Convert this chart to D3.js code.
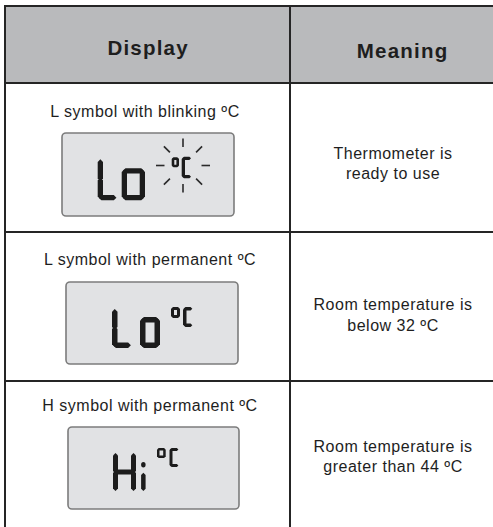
<!DOCTYPE html>
<html>
<head>
<meta charset="utf-8">
<script src="https://cdn.jsdelivr.net/npm/d3@7"></script>
<style>
	body { margin:0; background:#fff; }
	svg { display:block; }
	text { font-family:"Liberation Sans", Arial, Helvetica, sans-serif; fill:#1e1e1e; }
</style>
</head>
<body>
<div id="chart-area"></div>
<script>
/*
*    thermometer display table
*/

var columnTitles = ["Display", "Meaning"];
var displayLabels = ["L symbol with blinking ºC", "L symbol with permanent ºC", "H symbol with permanent ºC"];
var lcdReadings = ["Lo", "Lo", "Hi"];
var lcdUnit = ["º", "C"];
var unitBlinks = [true, false, false];
var meaningLines = [
	["Thermometer is", "ready to use"],
	["Room temperature is", "below 32 ºC"],
	["Room temperature is", "greater than 44 ºC"]
];

// segment shapes of the lcd glyphs, in a unit box
var glyphSegments = {
	"L": [[0,0,0,0.5],[0,0.5,0,1],[0,1,1,1]],
	"o": [[0,0,1,0],[0,0,0,1],[1,0,1,1],[0,1,1,1]],
	"H": [[0,0,0,0.5],[0,0.5,0,1],[1,0,1,0.5],[1,0.5,1,1],[0,0.5,1,0.5]],
	"i": [[0.5,0.43,0.5,1]],
	"º": [[0,0,1,0],[0,0,0,1],[1,0,1,1],[0,1,1,1]],
	"C": [[0,0,1,0],[0,0,0,1],[0,1,1,1]]
};
var glyphDots = { "i": [[0.5, 0.09]] };

// measured layout
var layout = {
	colX: [5, 290, 493],
	headerTop: 6,
	headerBottom: 83,
	tableBottom: 530,
	titleX: [147.5, 402],
	titleY: [55, 58],
	labelX: [145, 150, 150],
	labelY: [117, 265, 411],
	meaningX: 393,
	meaningY: [[159, 179], [310, 331], [452, 472]],
	lcdBoxes: [[62,133,234,216], [66,282,238,364], [68,427,239,509]],
	glyphBoxes: [
		[[97.7,158.3,117.5,200.3,5.3], [121.7,168.3,145,200.3,5.3], [171.7,157.3,179,167.3,2.6], [181.7,156.7,191.7,178.3,3.3]],
		[[112,308,132,348,5.5], [140,317,160,348,5.5], [171,307,180,318,3], [183,307,193,327,3.5]],
		[[113,452,136,492,5], [141,460,145.7,492,4.5], [157,448,165.7,458,2.5], [169.5,448,179,467,3]]
	],
	rayCenter: [183, 165.5],
	rayRadius: [18.5, 27]
};

var width = 493;
var height = 527;

var svg = d3.select("#chart-area")
	.append("svg")
		.attr("width", width)
		.attr("height", height);

var y = d3.scaleBand()
	.domain(d3.range(displayLabels.length))
	.range([layout.headerBottom, layout.tableBottom]);

// header background
svg.append("rect")
	.attr("x", layout.colX[0])
	.attr("y", layout.headerTop)
	.attr("width", width - layout.colX[0])
	.attr("height", layout.headerBottom - layout.headerTop)
	.attr("fill", "#b9babc");

// grid lines
var lineColor = "#252525";
var lines = [
	[layout.colX[0] - 1, layout.headerTop, width, layout.headerTop],
	[layout.colX[0], layout.headerTop, layout.colX[0], height],
	[layout.colX[1], layout.headerTop, layout.colX[1], height],
	[layout.colX[0], layout.headerBottom, width, layout.headerBottom]
];
d3.range(1, displayLabels.length).forEach(function(i){
	lines.push([layout.colX[0], y(i), width, y(i)]);
});

svg.selectAll("line.grid")
	.data(lines)
	.enter()
	.append("line")
		.attr("class", "grid")
		.attr("x1", function(d){ return d[0]; })
		.attr("y1", function(d){ return d[1]; })
		.attr("x2", function(d){ return d[2]; })
		.attr("y2", function(d){ return d[3]; })
		.attr("stroke", lineColor)
		.attr("stroke-width", 2);

// header titles
svg.selectAll("text.title")
	.data(columnTitles)
	.enter()
	.append("text")
		.attr("class", "title")
		.attr("x", function(d, i){ return layout.titleX[i] + 0.6; })
		.attr("y", function(d, i){ return layout.titleY[i]; })
		.attr("text-anchor", "middle")
		.attr("font-size", "20.5px")
		.attr("font-weight", "bold")
		.attr("letter-spacing", "1.2px")
		.text(function(d){ return d; });

// display labels
svg.selectAll("text.label")
	.data(displayLabels)
	.enter()
	.append("text")
		.attr("class", "label")
		.attr("x", function(d, i){ return layout.labelX[i]; })
		.attr("y", function(d, i){ return layout.labelY[i]; })
		.attr("text-anchor", "middle")
		.attr("font-size", "16px")
		.attr("letter-spacing", "0.5px")
		.text(function(d){ return d; });

// meanings
meaningLines.forEach(function(rowLines, r){
	svg.selectAll("text.meaning" + r)
		.data(rowLines)
		.enter()
		.append("text")
			.attr("class", "meaning" + r)
			.attr("x", layout.meaningX)
			.attr("y", function(d, i){ return layout.meaningY[r][i]; })
			.attr("text-anchor", "middle")
			.attr("font-size", "16px")
			.attr("letter-spacing", "0.5px")
			.text(function(d){ return d; });
});

// lcd segment polygon, pointed ends
function segmentPath(x1, y1, x2, y2, t, gap){
	var dx = x2 - x1, dy = y2 - y1;
	var len = Math.sqrt(dx*dx + dy*dy);
	var ux = dx/len, uy = dy/len;
	var h = t/2;
	var nx = -uy*h, ny = ux*h;
	var ax = x1 + ux*gap, ay = y1 + uy*gap;
	var bx = x2 - ux*gap, by = y2 - uy*gap;
	var pts = [
		[ax - ux*h, ay - uy*h],
		[ax + nx, ay + ny],
		[bx + nx, by + ny],
		[bx + ux*h, by + uy*h],
		[bx - nx, by - ny],
		[ax - nx, ay - ny]
	];
	return "M" + pts.map(function(p){ return p[0].toFixed(2) + "," + p[1].toFixed(2); }).join("L") + "Z";
}

lcdReadings.forEach(function(reading, r){
	var box = layout.lcdBoxes[r];
	var g = svg.append("g").attr("class", "lcd");

	g.append("rect")
		.attr("x", box[0])
		.attr("y", box[1])
		.attr("width", box[2] - box[0])
		.attr("height", box[3] - box[1])
		.attr("rx", 4)
		.attr("fill", "#e1e2e4")
		.attr("stroke", "#7c7c7c")
		.attr("stroke-width", 1.6);

	var chars = reading.split("").concat(lcdUnit);

	chars.forEach(function(ch, k){
		var gb = layout.glyphBoxes[r][k];
		var t = gb[4];
		var sx = d3.scaleLinear().domain([0, 1]).range([gb[0] + t/2, gb[2] - t/2]);
		var sy = d3.scaleLinear().domain([0, 1]).range([gb[1] + t/2, gb[3] - t/2]);
		var gap = t * 0.2;

		g.selectAll("path.seg" + k)
			.data(glyphSegments[ch])
			.enter()
			.append("path")
				.attr("class", "seg" + k)
				.attr("d", function(s){
					return segmentPath(sx(s[0]), sy(s[1]), sx(s[2]), sy(s[3]), t, gap);
				})
				.attr("fill", "#1c1c1c");

		if (glyphDots[ch]) {
			g.selectAll("ellipse.dot" + k)
				.data(glyphDots[ch])
				.enter()
				.append("ellipse")
					.attr("class", "dot" + k)
					.attr("cx", function(d){ return sx(d[0]); })
					.attr("cy", function(d){ return sy(d[1]); })
					.attr("rx", t/2)
					.attr("ry", t/2 + 0.4)
					.attr("fill", "#1c1c1c");
		}
	});

	if (unitBlinks[r]) {
		var c = layout.rayCenter;
		var rad = d3.scaleLinear().domain([0, 1]).range(layout.rayRadius);
		g.selectAll("line.ray")
			.data(d3.range(8))
			.enter()
			.append("line")
				.attr("class", "ray")
				.attr("x1", function(d){ return c[0] + rad(0)*Math.cos(d*Math.PI/4); })
				.attr("y1", function(d){ return c[1] + rad(0)*Math.sin(d*Math.PI/4); })
				.attr("x2", function(d){ return c[0] + rad(1)*Math.cos(d*Math.PI/4); })
				.attr("y2", function(d){ return c[1] + rad(1)*Math.sin(d*Math.PI/4); })
				.attr("stroke", "#2a2a2a")
				.attr("stroke-width", 1.6);
	}
});
</script>
</body>
</html>
